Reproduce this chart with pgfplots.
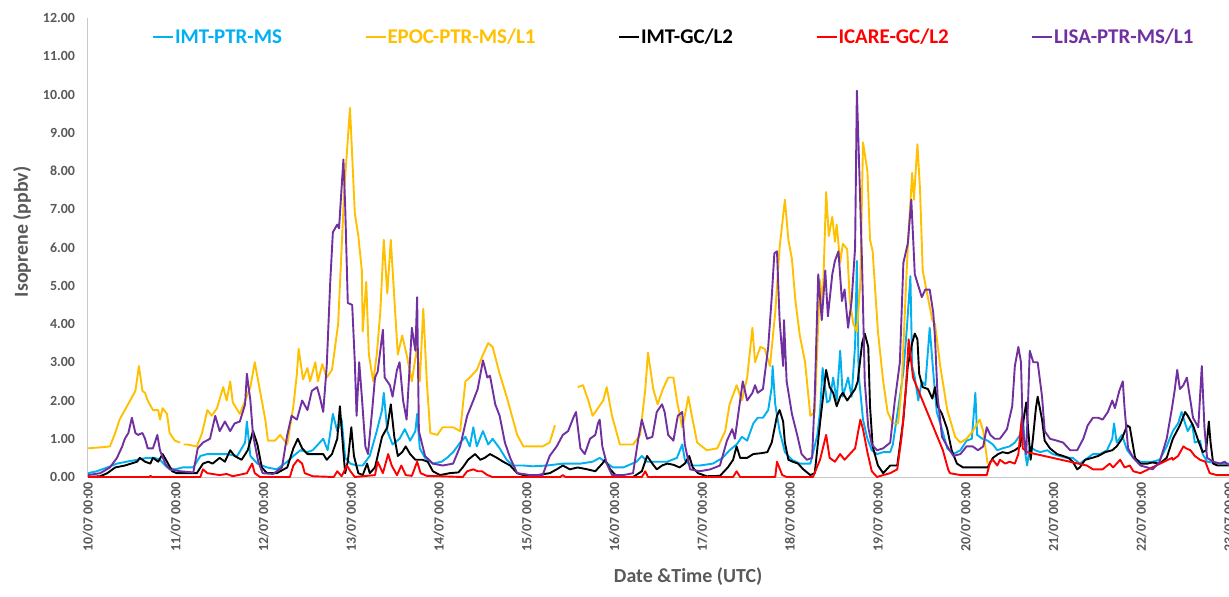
\documentclass[border=0pt]{standalone}
\usepackage{pgfplots}
\pgfplotsset{compat=1.18}
\usepackage{fontspec}
\setmainfont{Carlito}
\definecolor{cimt}{RGB}{0,176,240}
\definecolor{cepoc}{RGB}{255,192,0}
\definecolor{cicare}{RGB}{255,0,0}
\definecolor{clisa}{RGB}{112,48,160}
\definecolor{txtgray}{RGB}{89,89,89}
\definecolor{axgray}{RGB}{200,200,200}
\begin{document}
\begin{tikzpicture}
\begin{axis}[
  name=ax,
  scale only axis, width=1141bp, height=459bp,
  xmin=0, xmax=13, ymin=0, ymax=12,
  axis x line=bottom, axis y line=left,
  axis line style={-, draw=axgray, line width=1bp},
  major tick length=0pt,
  xtick={0,...,13},
  xticklabels={10/07 00:00,11/07 00:00,12/07 00:00,13/07 00:00,14/07 00:00,15/07 00:00,16/07 00:00,17/07 00:00,18/07 00:00,19/07 00:00,20/07 00:00,21/07 00:00,22/07 00:00,23/07 00:00},
  xticklabel shift=5bp,
  x tick label style={rotate=90, anchor=east, inner sep=0bp, outer sep=0bp, text=txtgray, font=\bfseries\fontsize{14}{14}\selectfont},
  ytick={0,...,12},
  yticklabel={\pgfmathprintnumber[fixed,fixed zerofill,precision=2,assume math mode=true]{\tick}},
  y tick label style={anchor=east, inner sep=0bp, outer sep=0bp, xshift=-13bp, text=txtgray, font=\bfseries\fontsize{14}{14}\selectfont},
  xlabel={Date \&Time (UTC)},
  ylabel={Isoprene (ppbv)},
  x label style={at={(axis description cs:0.526,-0.218)}, anchor=center, text=txtgray, font=\bfseries\fontsize{20}{20}\selectfont},
  y label style={at={(axis description cs:-0.0578,0.534)}, anchor=center, rotate=0, text=txtgray, font=\bfseries\fontsize{20}{20}\selectfont},
  unbounded coords=jump,
  legend columns=5,
  legend style={at={(axis description cs:0.0561,0.9586)}, anchor=west, draw=none, fill=none, inner sep=0bp, outer sep=0bp,
    font=\bfseries\fontsize{21}{21}\selectfont,
    nodes={inner sep=1bp},
    /tikz/every even column/.append style={column sep=81.5bp}},
  legend image code/.code={\draw[#1, line width=2bp] (0bp,0bp) -- (20bp,0bp);},
  every axis plot/.append style={line width=1.9bp, line join=round},
]
% IMT-PTR-MS
\addplot[cimt] table {
x y
0.00 0.10
0.10 0.15
0.22 0.25
0.33 0.35
0.44 0.40
0.56 0.45
0.67 0.50
0.76 0.50
0.82 0.45
0.90 0.25
0.99 0.20
1.08 0.25
1.20 0.25
1.28 0.55
1.36 0.60
1.47 0.60
1.58 0.60
1.70 0.55
1.79 0.90
1.81 1.45
1.85 0.55
1.93 0.35
2.04 0.25
2.15 0.20
2.27 0.40
2.34 0.55
2.42 0.70
2.50 0.65
2.56 0.70
2.68 1.00
2.73 0.70
2.76 1.15
2.79 1.65
2.84 1.20
2.89 1.50
2.93 0.50
2.99 0.35
3.06 0.30
3.13 0.30
3.21 0.55
3.29 1.20
3.35 1.75
3.37 2.20
3.41 1.20
3.47 0.85
3.55 1.00
3.61 1.25
3.67 0.95
3.73 1.20
3.75 1.65
3.78 0.75
3.84 0.50
3.93 0.35
4.03 0.40
4.09 0.50
4.16 0.65
4.24 0.90
4.30 1.05
4.35 0.80
4.39 1.30
4.43 0.80
4.50 1.20
4.56 0.85
4.61 1.00
4.69 0.75
4.77 0.45
4.84 0.30
4.96 0.30
5.07 0.28
5.23 0.30
5.41 0.35
5.61 0.35
5.75 0.40
5.83 0.50
5.89 0.40
5.98 0.25
6.10 0.25
6.25 0.40
6.31 0.55
6.37 0.40
6.48 0.40
6.60 0.40
6.71 0.50
6.77 0.85
6.80 0.45
6.86 0.30
6.97 0.30
7.12 0.35
7.23 0.50
7.31 0.70
7.39 0.85
7.45 1.05
7.51 0.95
7.58 1.40
7.63 1.55
7.69 1.55
7.75 1.75
7.79 2.35
7.80 2.90
7.83 1.90
7.88 1.20
7.94 0.65
8.02 0.45
8.11 0.35
8.23 0.35
8.31 1.10
8.34 1.70
8.37 2.85
8.42 1.95
8.45 2.00
8.49 2.60
8.53 2.00
8.57 3.30
8.60 2.10
8.66 2.60
8.70 2.10
8.74 3.45
8.76 5.65
8.78 2.70
8.83 1.50
8.88 1.00
8.93 0.70
8.99 0.60
9.06 0.65
9.14 0.65
9.17 0.85
9.25 2.10
9.29 2.75
9.33 3.90
9.37 5.25
9.39 2.90
9.42 2.60
9.46 2.00
9.50 2.50
9.54 2.40
9.59 3.90
9.63 2.75
9.67 1.70
9.73 1.25
9.79 0.75
9.86 0.60
9.94 0.70
10.01 0.95
10.07 1.00
10.11 2.20
10.13 1.10
10.19 1.00
10.25 0.95
10.31 0.85
10.36 0.70
10.42 0.75
10.50 0.80
10.56 0.90
10.62 1.10
10.65 1.65
10.68 0.60
10.70 0.30
10.73 0.80
10.79 0.70
10.85 0.65
10.93 0.70
10.99 0.60
11.07 0.55
11.15 0.50
11.22 0.50
11.30 0.35
11.36 0.45
11.45 0.60
11.53 0.60
11.61 0.70
11.67 1.00
11.69 1.40
11.72 0.90
11.78 1.10
11.84 0.70
11.91 0.50
11.99 0.40
12.13 0.40
12.21 0.45
12.29 0.80
12.36 1.20
12.42 1.40
12.46 1.70
12.50 1.40
12.53 1.20
12.58 1.40
12.61 0.90
12.67 0.95
12.70 0.60
12.75 0.40
12.90 0.35
13.00 0.35
};
\addlegendentry{\textcolor{cimt}{IMT-PTR-MS}}
% EPOC-PTR-MS/L1
\addplot[cepoc] table {
x y
0.00 0.75
0.17 0.78
0.25 0.80
0.31 1.15
0.36 1.50
0.42 1.75
0.48 2.00
0.54 2.25
0.58 2.90
0.62 2.25
0.65 2.20
0.68 2.00
0.74 1.75
0.80 1.75
0.82 1.50
0.85 1.80
0.90 1.65
0.93 1.15
0.99 0.95
1.05 0.90
1.07 nan
1.09 0.85
1.13 0.85
1.24 0.80
1.30 1.15
1.36 1.75
1.41 1.60
1.47 1.80
1.54 2.35
1.58 2.00
1.62 2.50
1.65 1.95
1.73 1.65
1.79 2.00
1.85 2.35
1.90 3.00
1.96 2.25
2.02 1.50
2.05 0.95
2.13 0.95
2.19 1.10
2.27 0.85
2.34 1.85
2.38 2.70
2.40 3.35
2.45 2.55
2.50 2.85
2.53 2.50
2.59 3.00
2.62 2.50
2.67 2.95
2.72 2.60
2.78 2.80
2.85 4.00
2.92 7.50
2.985 9.65
3.04 6.90
3.08 6.30
3.12 5.40
3.13 3.80
3.17 5.10
3.20 3.20
3.25 2.50
3.29 3.20
3.33 4.30
3.37 6.20
3.41 4.80
3.45 6.20
3.50 4.30
3.53 3.20
3.58 3.70
3.63 3.20
3.69 2.50
3.75 3.40
3.78 2.50
3.82 4.40
3.86 2.50
3.90 1.15
3.98 1.10
4.04 1.30
4.16 1.30
4.24 1.20
4.30 2.50
4.35 2.60
4.43 2.80
4.50 3.20
4.56 3.50
4.61 3.40
4.69 2.70
4.77 2.10
4.89 1.10
4.96 0.80
5.04 0.80
5.18 0.80
5.26 0.90
5.32 1.35
5.45 nan
5.58 2.35
5.64 2.40
5.70 2.00
5.75 1.60
5.81 1.80
5.87 2.00
5.91 2.35
5.97 1.60
6.06 0.85
6.21 0.85
6.29 1.10
6.35 2.30
6.38 3.25
6.44 2.30
6.49 1.90
6.55 2.30
6.61 2.60
6.67 2.60
6.71 2.00
6.77 1.30
6.80 1.60
6.84 2.10
6.88 1.60
6.94 0.90
7.05 0.70
7.17 0.75
7.26 1.20
7.31 1.90
7.39 2.40
7.45 2.00
7.51 2.60
7.57 3.90
7.60 3.00
7.66 3.40
7.71 3.35
7.77 2.90
7.83 4.30
7.88 6.00
7.94 7.25
7.98 6.20
8.02 5.70
8.06 4.60
8.11 3.70
8.17 3.00
8.23 1.60
8.28 1.70
8.34 5.15
8.37 4.50
8.41 7.45
8.44 6.30
8.48 6.80
8.51 6.15
8.53 6.60
8.57 5.60
8.60 6.10
8.65 5.95
8.68 4.60
8.72 4.00
8.76 3.80
8.80 5.10
8.83 8.75
8.88 8.00
8.91 6.20
8.94 5.90
9.00 3.80
9.06 2.50
9.11 1.70
9.17 1.40
9.23 1.40
9.27 2.35
9.32 5.00
9.34 6.00
9.39 7.95
9.41 7.25
9.45 8.70
9.48 7.50
9.51 5.40
9.56 4.80
9.62 4.10
9.65 4.00
9.71 2.90
9.79 1.75
9.88 1.05
9.94 0.90
10.01 1.00
10.08 1.20
10.16 1.50
10.20 1.20
10.25 0.35
};
\addlegendentry{\textcolor{cepoc}{EPOC-PTR-MS/L1}}
% IMT-GC/L2
\addplot[black] table {
x y
0.00 0.00
0.14 0.02
0.22 0.10
0.31 0.25
0.42 0.30
0.56 0.40
0.59 0.50
0.65 0.40
0.71 0.35
0.74 0.50
0.80 0.40
0.85 0.60
0.90 0.40
0.96 0.15
1.01 0.10
1.24 0.10
1.31 0.35
1.37 0.40
1.42 0.35
1.50 0.50
1.56 0.40
1.62 0.70
1.67 0.55
1.75 0.45
1.82 0.70
1.88 1.20
1.93 0.85
1.98 0.25
2.04 0.10
2.15 0.10
2.27 0.25
2.34 0.75
2.39 1.00
2.44 0.75
2.50 0.60
2.61 0.60
2.68 0.60
2.72 0.45
2.78 0.60
2.84 1.00
2.87 1.85
2.91 0.65
2.93 0.10
2.96 0.40
3.00 1.30
3.03 0.55
3.08 0.10
3.13 0.05
3.18 0.35
3.21 0.10
3.27 0.25
3.35 1.05
3.41 1.30
3.45 1.90
3.49 1.05
3.53 0.55
3.58 0.65
3.62 0.80
3.67 0.60
3.73 0.45
3.81 0.45
3.87 0.40
3.93 0.15
4.01 0.05
4.12 0.10
4.22 0.12
4.27 0.25
4.33 0.45
4.41 0.60
4.47 0.45
4.52 0.50
4.58 0.60
4.66 0.50
4.73 0.40
4.81 0.30
4.89 0.10
4.96 0.05
5.12 0.05
5.26 0.10
5.34 0.20
5.41 0.30
5.49 0.20
5.58 0.25
5.69 0.20
5.78 0.15
5.86 0.35
5.89 0.45
5.95 0.20
6.03 0.00
6.21 0.00
6.31 0.15
6.37 0.55
6.43 0.35
6.48 0.20
6.54 0.30
6.60 0.35
6.67 0.32
6.74 0.25
6.80 0.35
6.85 0.55
6.89 0.25
6.95 0.10
7.05 0.02
7.20 0.03
7.29 0.25
7.35 0.45
7.39 0.80
7.43 0.50
7.51 0.50
7.58 0.60
7.66 0.62
7.74 0.65
7.79 0.90
7.85 1.60
7.88 1.75
7.92 1.45
7.94 0.90
7.98 0.45
8.03 0.40
8.09 0.35
8.15 0.20
8.23 0.05
8.28 0.10
8.34 1.40
8.41 2.80
8.45 2.35
8.49 2.20
8.53 1.85
8.57 2.10
8.60 2.20
8.65 2.00
8.68 2.10
8.74 2.30
8.77 2.50
8.82 3.50
8.85 3.75
8.89 3.40
8.91 1.85
8.94 0.80
9.00 0.30
9.06 0.10
9.14 0.30
9.22 0.30
9.29 1.50
9.34 2.90
9.39 3.50
9.42 3.75
9.45 3.60
9.47 2.70
9.51 2.35
9.57 2.30
9.62 2.05
9.65 2.35
9.68 1.85
9.73 1.65
9.79 1.25
9.84 0.70
9.90 0.35
9.97 0.25
10.05 0.25
10.16 0.25
10.25 0.25
10.31 0.50
10.37 0.60
10.42 0.65
10.48 0.62
10.56 0.70
10.62 0.80
10.65 1.35
10.69 1.95
10.71 1.30
10.74 0.45
10.77 1.10
10.80 1.80
10.82 2.10
10.87 1.50
10.90 0.95
10.96 0.75
11.04 0.60
11.11 0.55
11.17 0.50
11.22 0.40
11.27 0.20
11.30 0.25
11.36 0.45
11.44 0.50
11.51 0.55
11.59 0.65
11.67 0.70
11.72 0.80
11.78 1.00
11.84 1.35
11.87 1.30
11.93 0.50
11.99 0.35
12.07 0.35
12.13 0.38
12.21 0.35
12.29 0.50
12.36 1.00
12.44 1.35
12.50 1.70
12.53 1.60
12.59 1.35
12.65 0.95
12.70 0.65
12.74 0.70
12.77 1.45
12.79 0.90
12.82 0.35
12.87 0.30
12.93 0.30
13.00 0.30
};
\addlegendentry{\textcolor{black}{IMT-GC/L2}}
% ICARE-GC/L2
\addplot[cicare] table {
x y
0.00 0.00
0.70 0.00
0.71 0.03
0.73 0.00
1.28 0.00
1.31 0.20
1.36 0.10
1.50 0.05
1.58 0.08
1.65 0.02
1.81 0.10
1.87 0.35
1.90 0.10
1.96 0.00
2.30 0.00
2.34 0.30
2.39 0.45
2.44 0.35
2.47 0.10
2.56 0.02
2.80 0.00
2.84 0.15
2.89 0.02
2.95 0.30
2.99 0.15
3.04 0.00
3.27 0.05
3.30 0.40
3.36 0.10
3.42 0.60
3.46 0.30
3.52 0.05
3.57 0.30
3.62 0.05
3.69 0.03
3.75 0.40
3.79 0.10
3.86 0.03
4.27 0.00
4.32 0.15
4.39 0.20
4.44 0.15
4.49 0.15
4.55 0.05
4.61 0.00
5.38 0.00
5.41 0.05
5.44 0.00
6.31 0.00
6.35 0.15
6.38 0.00
7.35 0.00
7.39 0.15
7.43 0.00
7.83 0.00
7.85 0.40
7.91 0.05
7.96 0.00
8.26 0.00
8.34 0.45
8.41 1.10
8.45 0.50
8.51 0.40
8.57 0.60
8.62 0.45
8.68 0.60
8.74 0.75
8.80 1.50
8.83 1.25
8.88 0.65
8.93 0.15
8.99 0.00
9.06 0.05
9.14 0.10
9.22 0.20
9.27 1.05
9.32 2.35
9.35 3.60
9.40 2.60
9.74 0.70
9.80 0.20
9.82 0.10
9.94 0.05
10.05 0.05
10.16 0.05
10.24 0.05
10.28 0.40
10.31 0.45
10.36 0.30
10.39 0.45
10.45 0.35
10.50 0.40
10.56 0.35
10.60 0.60
10.64 1.55
10.65 0.75
10.70 0.65
11.38 0.30
11.45 0.20
11.56 0.20
11.64 0.35
11.68 0.25
11.76 0.45
11.81 0.25
11.87 0.30
11.91 0.15
11.99 0.10
12.35 0.50
12.36 0.45
12.42 0.55
12.48 0.80
12.51 0.75
12.56 0.70
12.61 0.55
12.67 0.45
12.73 0.40
12.78 0.10
12.86 0.05
13.00 0.05
};
\addlegendentry{\textcolor{cicare}{ICARE-GC/L2}}
% LISA-PTR-MS/L1
\addplot[clisa] table {
x y
0.00 0.05
0.14 0.10
0.25 0.25
0.33 0.50
0.39 0.80
0.42 1.00
0.46 1.15
0.50 1.55
0.54 1.15
0.57 1.10
0.62 1.15
0.65 1.00
0.68 0.75
0.74 0.75
0.79 1.10
0.82 0.70
0.88 0.35
0.93 0.20
1.05 0.15
1.20 0.12
1.25 0.75
1.31 0.90
1.39 1.00
1.45 1.60
1.50 1.20
1.56 1.45
1.62 1.20
1.67 1.40
1.73 1.45
1.79 1.90
1.81 2.70
1.85 2.00
1.88 1.10
1.94 0.40
1.99 0.10
2.11 0.08
2.21 0.25
2.27 1.10
2.32 1.60
2.38 1.50
2.44 2.00
2.50 1.75
2.55 2.25
2.61 2.35
2.64 2.10
2.68 1.70
2.72 2.90
2.76 5.10
2.79 6.40
2.84 6.60
2.86 6.50
2.91 8.30
2.93 7.10
2.96 4.55
3.01 4.50
3.04 3.00
3.06 1.60
3.09 3.00
3.12 2.10
3.16 0.80
3.19 0.60
3.24 1.80
3.27 2.60
3.30 2.75
3.36 3.85
3.38 2.60
3.44 2.40
3.47 2.10
3.52 2.80
3.55 3.00
3.59 2.00
3.63 1.50
3.69 3.90
3.73 3.30
3.75 4.70
3.77 1.20
3.84 0.55
3.93 0.35
4.04 0.30
4.16 0.35
4.24 0.80
4.32 1.60
4.39 2.00
4.44 2.30
4.50 3.05
4.55 2.60
4.58 2.65
4.64 1.90
4.69 1.60
4.75 0.90
4.81 0.50
4.89 0.10
5.04 0.05
5.18 0.05
5.26 0.55
5.34 0.80
5.41 1.10
5.47 1.20
5.53 1.55
5.56 1.70
5.61 0.75
5.66 0.60
5.72 1.00
5.78 1.10
5.81 1.40
5.83 1.50
5.86 0.80
5.91 0.35
5.97 0.05
6.10 0.05
6.21 0.10
6.27 1.00
6.31 1.50
6.37 1.00
6.43 1.05
6.48 1.70
6.54 1.90
6.57 1.70
6.61 1.10
6.67 0.95
6.72 1.60
6.77 1.70
6.80 0.85
6.86 0.20
6.97 0.15
7.09 0.20
7.20 0.30
7.28 0.95
7.34 1.25
7.37 1.00
7.43 2.00
7.46 2.50
7.51 2.00
7.57 2.20
7.60 2.40
7.63 2.20
7.69 2.30
7.75 3.40
7.79 4.70
7.82 5.85
7.85 5.90
7.88 4.10
7.92 2.90
7.93 4.10
7.96 2.50
8.02 1.65
8.08 1.10
8.13 0.60
8.19 0.45
8.25 0.50
8.28 2.10
8.32 5.30
8.36 4.10
8.40 5.40
8.43 4.20
8.48 5.30
8.51 5.65
8.55 5.90
8.59 4.60
8.62 4.90
8.66 3.90
8.70 4.60
8.74 6.00
8.76 10.10
8.78 8.60
8.82 5.50
8.85 2.50
8.89 1.30
8.93 0.85
8.99 0.70
9.06 0.75
9.14 0.90
9.19 1.95
9.25 3.00
9.29 5.60
9.32 5.90
9.34 6.10
9.38 7.25
9.40 6.30
9.42 5.30
9.46 5.00
9.50 4.70
9.54 4.90
9.59 4.90
9.63 4.30
9.65 3.65
9.68 2.10
9.73 1.05
9.79 0.80
9.86 0.55
9.94 0.60
10.01 0.80
10.08 0.80
10.14 0.70
10.20 0.80
10.24 1.30
10.28 1.10
10.33 1.00
10.39 1.00
10.47 1.25
10.53 1.85
10.56 2.90
10.60 3.40
10.63 3.00
10.65 1.25
10.69 0.60
10.73 3.30
10.77 3.00
10.82 3.00
10.87 2.10
10.90 1.20
10.96 1.00
11.04 0.95
11.11 0.90
11.19 0.70
11.27 0.70
11.34 1.00
11.39 1.35
11.45 1.55
11.51 1.55
11.56 1.50
11.62 1.70
11.67 2.00
11.70 1.80
11.75 2.25
11.79 2.50
11.81 1.80
11.85 0.75
11.91 0.50
11.99 0.30
12.07 0.25
12.13 0.20
12.21 0.40
12.29 1.00
12.35 1.80
12.38 2.25
12.41 2.80
12.44 2.30
12.48 2.40
12.52 2.60
12.56 2.00
12.59 1.55
12.65 1.30
12.69 2.90
12.72 1.30
12.75 0.50
12.82 0.40
12.90 0.35
12.95 0.40
13.00 0.30
};
\addlegendentry{\textcolor{clisa}{LISA-PTR-MS/L1}}
\end{axis}
\pgfresetboundingbox
\useasboundingbox ([xshift=-88bp,yshift=-120bp]ax.south west) rectangle ([yshift=18bp]ax.north east);
\end{tikzpicture}
\end{document}
